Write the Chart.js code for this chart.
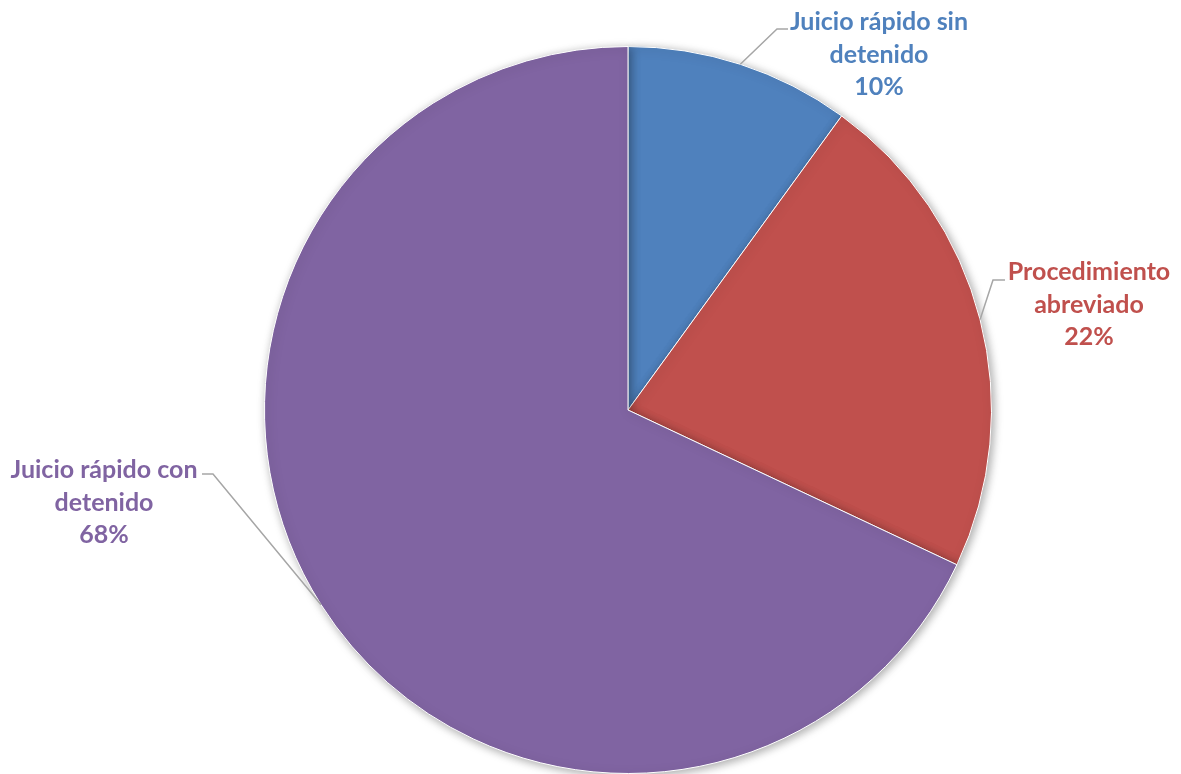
<!DOCTYPE html>
<html>
<head>
<meta charset="utf-8">
<script src="https://cdn.jsdelivr.net/npm/chart.js@4"></script>
<style>
  html, body { margin: 0; padding: 0; background: #fff; }
  #wrap { width: 1181px; height: 774px; }
</style>
</head>
<body>
<div id="wrap"><canvas id="myChart" width="1181" height="774"></canvas></div>
<script>
const categories = ["Juicio rápido sin detenido", "Procedimiento abreviado", "Juicio rápido con detenido"];
const labelLines = [["Juicio rápido sin", "detenido"], ["Procedimiento", "abreviado"], ["Juicio rápido con", "detenido"]];
const shares = [10, 22, 68];
const colors = ["#4F81BD", "#C0504D", "#8064A2"];

// where each label sits: elbow of leader line, end of leader line, text centre and first line y
const labelLayout = [
  { elbow: [777, 29], end: [788, 29], tx: 879, ty: 22 },
  { elbow: [993, 280], end: [1005, 280], tx: 1089, ty: 272 },
  { elbow: [213, 474], end: [202, 474], tx: 104, ty: 470 },
];

const shadow = {
  id: "shadow",
  beforeDatasetsDraw(chart) {
    const c = chart.ctx;
    c.save();
    c.shadowColor = "rgba(0,0,0,0.35)";
    c.shadowBlur = 10;
    c.shadowOffsetX = 2;
    c.shadowOffsetY = 2;
  },
  afterDatasetsDraw(chart) {
    chart.ctx.restore();
  },
};

const outsideLabels = {
  id: "outsideLabels",
  afterDraw(chart) {
    const c = chart.ctx;
    const total = shares.reduce((a, b) => a + b, 0);
    chart.getDatasetMeta(0).data.forEach((arc, i) => {
      const p = arc.getProps(["x", "y", "startAngle", "endAngle", "outerRadius"], true);
      const mid = (p.startAngle + p.endAngle) / 2;
      const sx = p.x + Math.cos(mid) * p.outerRadius;
      const sy = p.y + Math.sin(mid) * p.outerRadius;
      const L = labelLayout[i];
      c.save();
      c.strokeStyle = "#A6A6A6";
      c.lineWidth = 1.5;
      c.beginPath();
      c.moveTo(sx, sy);
      c.lineTo(L.elbow[0], L.elbow[1]);
      c.lineTo(L.end[0], L.end[1]);
      c.stroke();
      c.fillStyle = colors[i];
      c.font = "bold 25px Lato";
      c.textAlign = "center";
      c.textBaseline = "middle";
      const lines = labelLines[i].concat([Math.round(shares[i] / total * 100) + "%"]);
      lines.forEach((t, j) => c.fillText(t, L.tx, L.ty + j * 32.5));
      c.restore();
    });
  },
};

const ctx = document.getElementById("myChart").getContext("2d");
const myChart = new Chart(ctx, {
  type: "pie",
  data: {
    labels: categories,
    datasets: [
      {
        data: shares,
        backgroundColor: colors,
        borderColor: "#ffffff",
        borderWidth: 1,
      },
    ],
  },
  options: {
    responsive: false,
    animation: false,
    layout: { padding: { left: 264, right: 189, top: 46, bottom: 0 } },
    plugins: {
      legend: { display: false },
      tooltip: { enabled: false },
    },
  },
  plugins: [shadow, outsideLabels],
});
</script>
</body>
</html>
